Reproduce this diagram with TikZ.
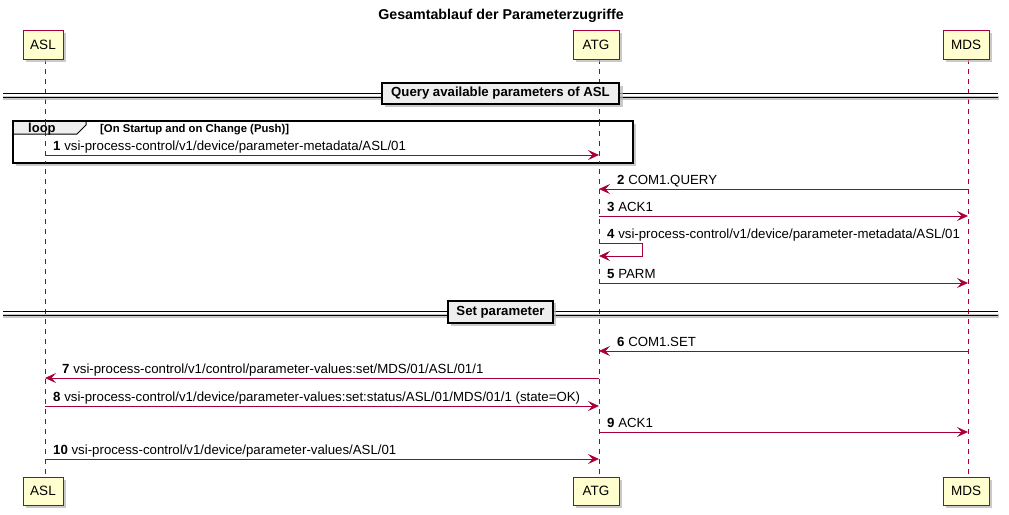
\documentclass[tikz,border=0pt]{standalone}
\usepackage{fontspec}
\setmainfont{Liberation Sans}
\usetikzlibrary{arrows.meta}
\definecolor{plred}{HTML}{A80036}
\definecolor{plfill}{HTML}{FEFECE}
\definecolor{plgrey}{HTML}{EEEEEE}
\definecolor{plshadow}{HTML}{B4B4B4}
\begin{document}
\begin{tikzpicture}[x=1pt,y=-1pt,
  part/.style={draw=plred, fill=plfill, line width=1pt, minimum height=29pt, inner sep=0pt, font=\fontsize{13.5}{15}\selectfont},
  life/.style={draw=plred, line width=0.8pt, dash pattern=on 5pt off 5pt},
  msg/.style={draw=plred, line width=0.8pt, -{Stealth[length=11pt,width=10pt,inset=4.5pt]}},
  lbl/.style={anchor=base west, inner sep=0pt, font=\fontsize{13.25}{15}\selectfont},
  divbox/.style={draw=black, fill=plgrey, line width=1.4pt, inner sep=0pt, font=\bfseries\fontsize{13.2}{15}\selectfont},
  shadowc/.style={fill=plshadow, draw=none, opacity=0.7}
]
\useasboundingbox (0,0) rectangle (1009,514);
\node[font=\bfseries\fontsize{14.25}{16}\selectfont] (title) at (501,16) {Gesamtablauf der Parameterzugriffe};

% lifelines
\coordinate (aslT) at (45,59); \coordinate (aslB) at (45,477);
\coordinate (atgT) at (599,59); \coordinate (atgB) at (599,477);
\coordinate (mdsT) at (968,59); \coordinate (mdsB) at (968,477);
\draw[life] (aslT) -- (aslB);
\draw[life] (atgT) -- (atgB);
\draw[life] (mdsT) -- (mdsB);

% participant shadows
\foreach \x/\w in {43/40, 596/46, 966/46}{
  \fill[shadowc] (\x-\w/2+3,33) rectangle (\x+\w/2+3,62);
  \fill[shadowc] (\x-\w/2+3,480) rectangle (\x+\w/2+3,508);
}
\node[part, minimum width=40pt] (aslTop) at (43,44.5) {ASL};
\node[part, minimum width=46pt] (atgTop) at (596,44.5) {ATG};
\node[part, minimum width=46pt] (mdsTop) at (966,44.5) {MDS};
\node[part, minimum width=40pt, minimum height=28pt] (aslBot) at (43,491) {ASL};
\node[part, minimum width=46pt, minimum height=28pt] (atgBot) at (596,491) {ATG};
\node[part, minimum width=46pt, minimum height=28pt] (mdsBot) at (966,491) {MDS};

% divider 1
\fill[shadowc] (3,96) rectangle (999,100);
\draw[line width=0.9pt] (3,93) -- (998,93);
\draw[line width=0.9pt] (3,97) -- (998,97);
\fill[shadowc] (385,86) rectangle (623,107);
\node[divbox, minimum width=237pt, minimum height=21pt] (div1) at (500.5,93.5) {Query available parameters of ASL};

% loop frame
\fill[shadowc] (16,124) rectangle (636,166);
\fill[white] (13,121) rectangle (633,163);
\fill[plgrey, draw=black, line width=1pt] (13,121) -- (86,121) -- (86,125) -- (77,134) -- (13,134) -- cycle;
\draw[line width=1.5pt] (13,121) rectangle (633,163);
\node[anchor=base west, inner sep=0pt, font=\bfseries\fontsize{13}{14}\selectfont] (looplbl) at (28,132) {loop};
\node[anchor=base west, inner sep=0pt, font=\bfseries\fontsize{11.3}{12}\selectfont] (loopcond) at (100,132) {[On Startup and on Change (Push)]};
\draw[life] (45,121) -- (45,163);
\draw[life] (599,121) -- (599,163);

% messages
\coordinate (m1a) at (45,155); \coordinate (m1b) at (599,155);
\draw[msg] (m1a) -- (m1b);
\node[lbl] (l1) at (53,150.5) {\textbf{1} vsi-process-control/v1/device/parameter-metadata/ASL/01};

\coordinate (m2a) at (968,189); \coordinate (m2b) at (599,189);
\draw[msg] (m2a) -- (m2b);
\node[lbl] (l2) at (617,184.5) {\textbf{2} COM1.QUERY};

\coordinate (m3a) at (599,216); \coordinate (m3b) at (968,216);
\draw[msg] (m3a) -- (m3b);
\node[lbl] (l3) at (607,211.5) {\textbf{3} ACK1};

\coordinate (m4a) at (599,243); \coordinate (m4b) at (599,256);
\draw[msg] (m4a) -- (642,243) -- (642,256) -- (m4b);
\node[lbl] (l4) at (607,238.5) {\textbf{4} vsi-process-control/v1/device/parameter-metadata/ASL/01};

\coordinate (m5a) at (599,283); \coordinate (m5b) at (968,283);
\draw[msg] (m5a) -- (m5b);
\node[lbl] (l5) at (607,278.5) {\textbf{5} PARM};

% divider 2
\fill[shadowc] (3,314) rectangle (999,318);
\draw[line width=0.9pt] (3,311) -- (998,311);
\draw[line width=0.9pt] (3,315) -- (998,315);
\fill[shadowc] (451,303) rectangle (556,326);
\node[divbox, minimum width=105pt, minimum height=22pt] (div2) at (500.5,312) {Set parameter};

\coordinate (m6a) at (968,351); \coordinate (m6b) at (599,351);
\draw[msg] (m6a) -- (m6b);
\node[lbl] (l6) at (617,346.5) {\textbf{6} COM1.SET};

\coordinate (m7a) at (599,378); \coordinate (m7b) at (45,378);
\draw[msg] (m7a) -- (m7b);
\node[lbl] (l7) at (62,373.5) {\textbf{7} vsi-process-control/v1/control/parameter-values:set/MDS/01/ASL/01/1};

\coordinate (m8a) at (45,406); \coordinate (m8b) at (599,406);
\draw[msg] (m8a) -- (m8b);
\node[lbl] (l8) at (53,401.5) {\textbf{8} vsi-process-control/v1/device/parameter-values:set:status/ASL/01/MDS/01/1 (state=OK)};

\coordinate (m9a) at (599,432); \coordinate (m9b) at (968,432);
\draw[msg] (m9a) -- (m9b);
\node[lbl] (l9) at (607,427.5) {\textbf{9} ACK1};

\coordinate (m10a) at (45,459); \coordinate (m10b) at (599,459);
\draw[msg] (m10a) -- (m10b);
\node[lbl] (l10) at (53,454.5) {\textbf{10} vsi-process-control/v1/device/parameter-values/ASL/01};
\end{tikzpicture}
\end{document}
